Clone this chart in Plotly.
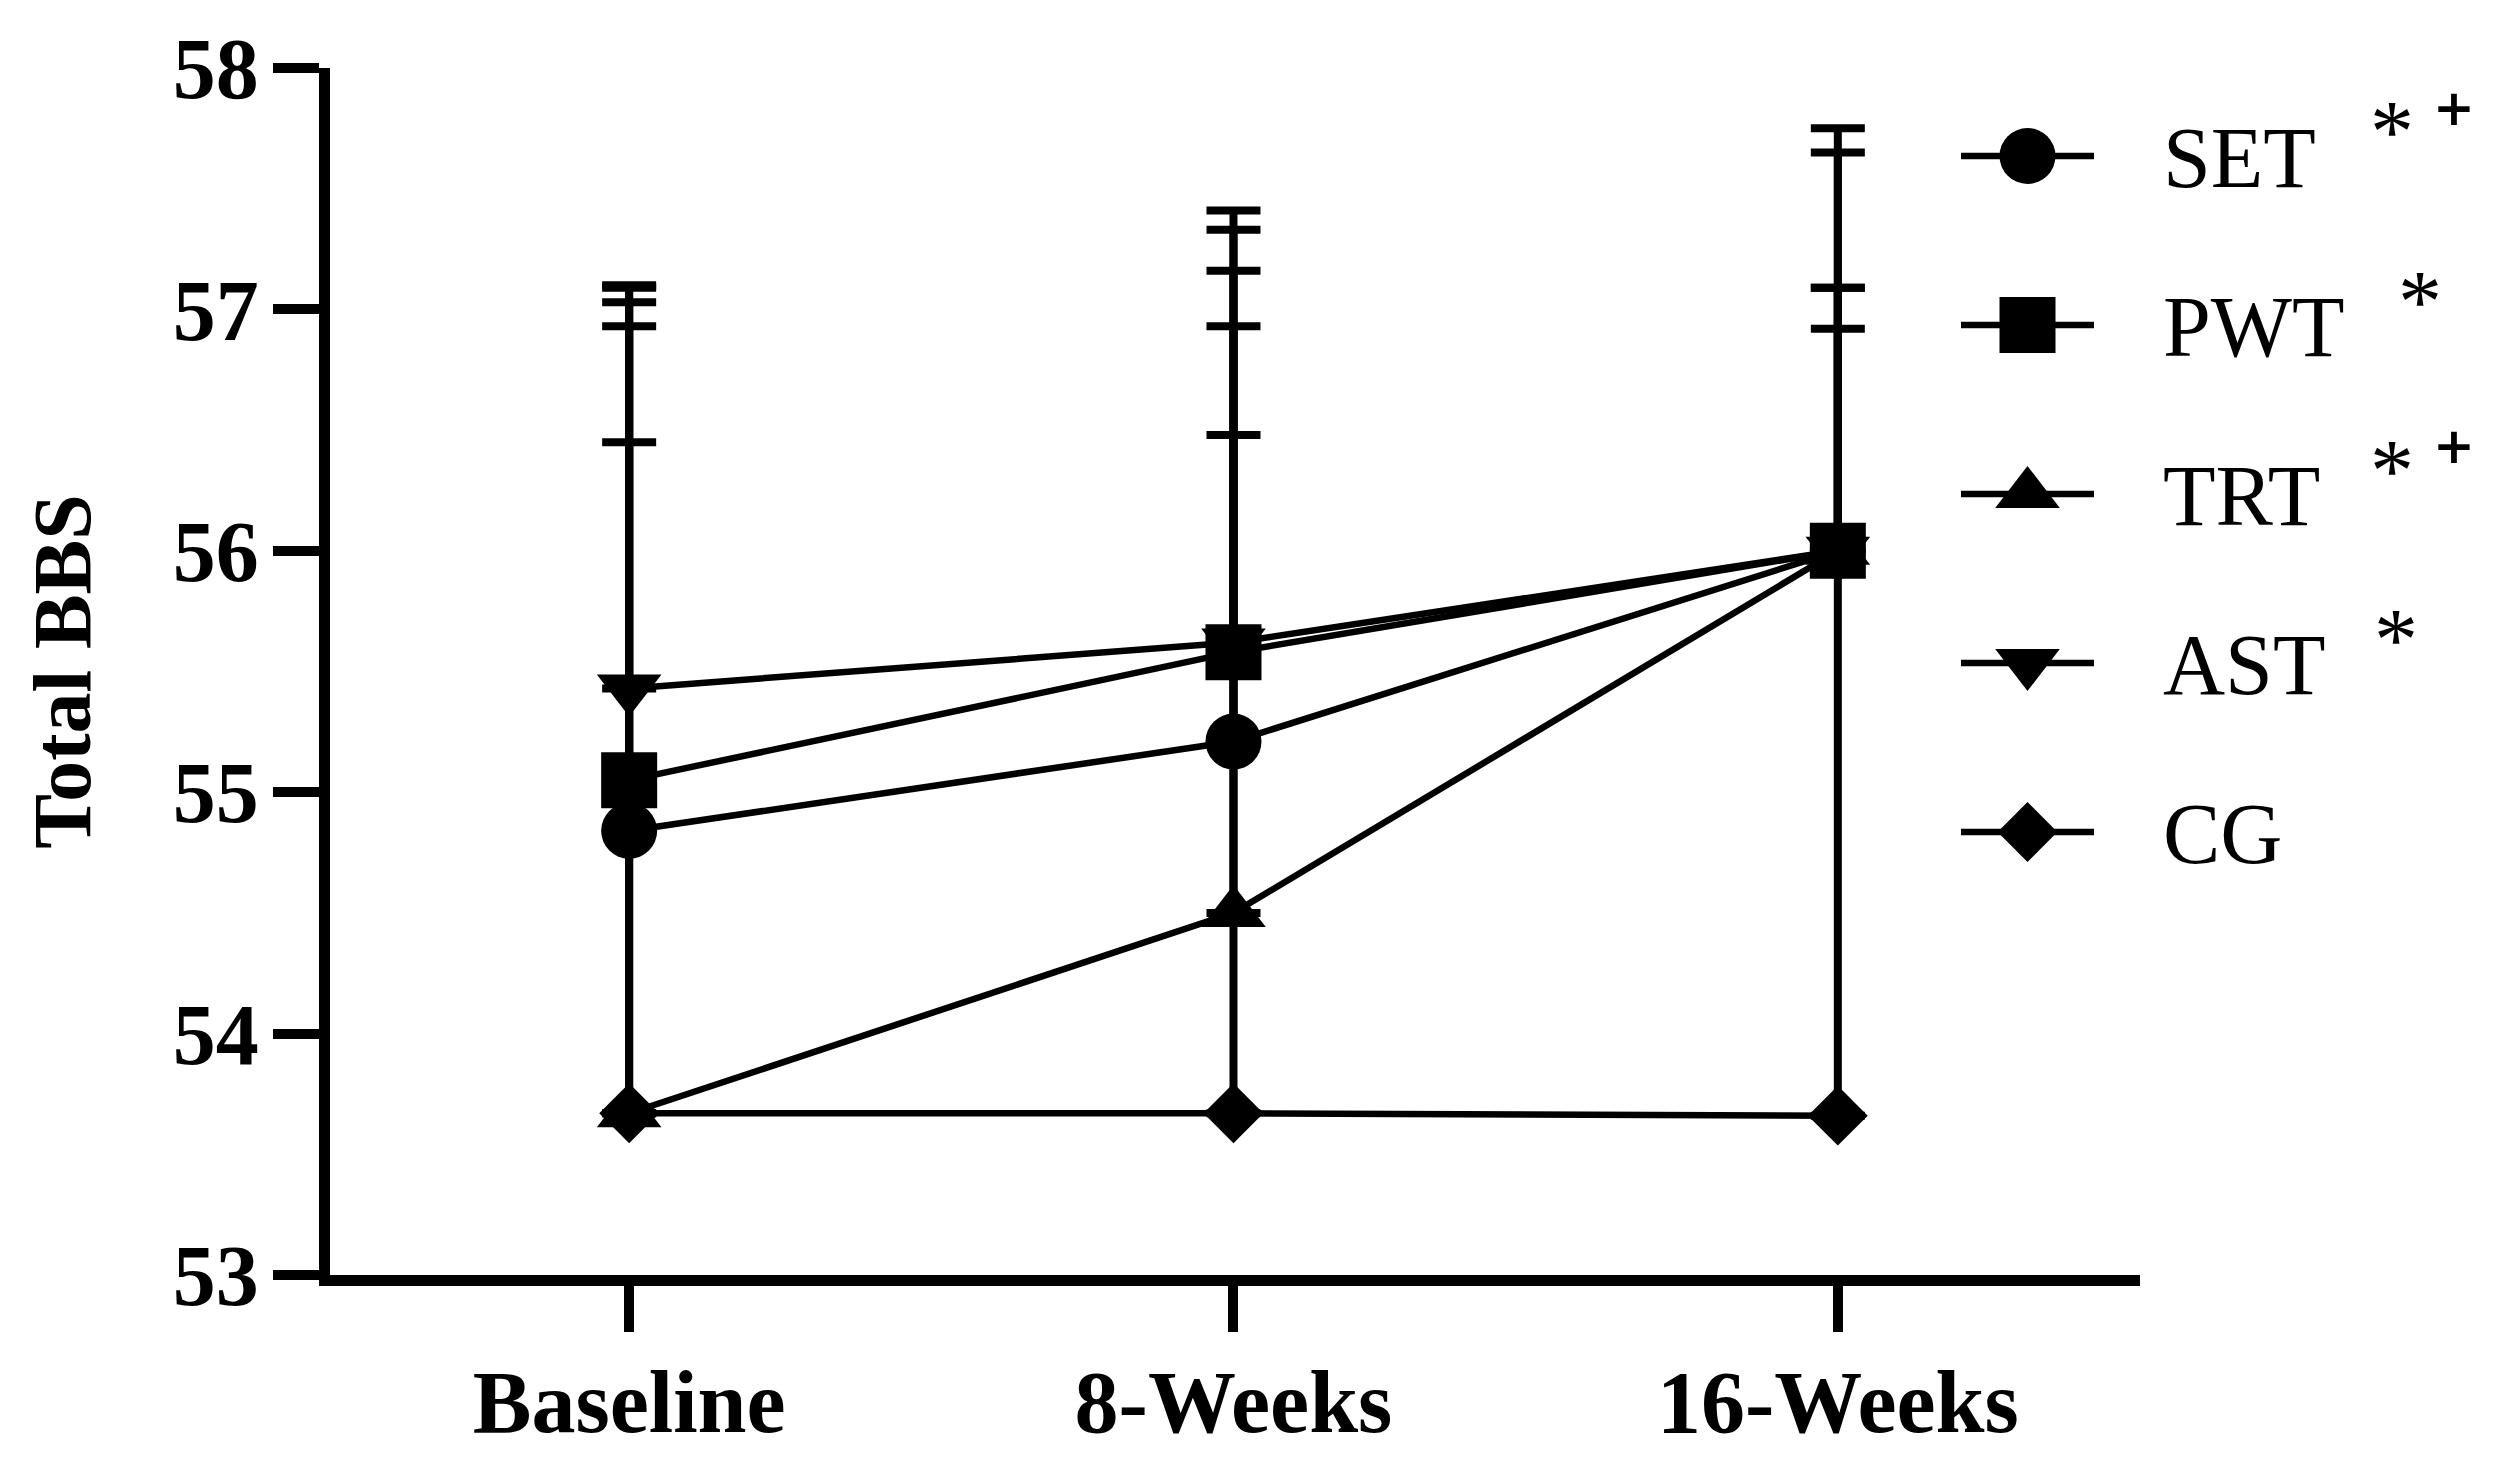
import plotly.graph_objects as go

# ---------------- data ----------------
timepoints = ["Baseline", "8-Weeks", "16-Weeks"]
x_pos = [0, 1, 2]

groups = ["SET", "PWT", "TRT", "AST", "CG"]
set_mean = [54.84, 55.21, 56.00]
pwt_mean = [55.05, 55.58, 56.00]
trt_mean = [53.67, 54.50, 56.00]
ast_mean = [55.43, 55.62, 56.00]
cg_mean = [53.67, 53.67, 53.66]

set_sd = [2.26, 1.95, 1.09]
pwt_sd = [1.98, 1.83, 0.92]
trt_sd = [3.42, 2.43, 1.75]
ast_sd = [1.50, 1.71, 1.65]
cg_sd = [2.78, 2.81, 3.43]

symbols = ["circle", "square", "triangle-up", "triangle-down", "diamond"]
marker_sizes = [56, 56, 56, 56, 46]
significance = [["*", "+"], ["*"], ["*", "+"], ["*"], []]

y_ticks = [53, 54, 55, 56, 57, 58]

means = [set_mean, pwt_mean, trt_mean, ast_mean, cg_mean]
sds = [set_sd, pwt_sd, trt_sd, ast_sd, cg_sd]

# ---------------- geometry (screen pixels) ----------------
W, H = 2514, 1457
BODY = 8                      # default page body margin
PX0, PX1 = 330, 2140          # plot area left / right on screen
PY0, PY1 = 68, 1275           # plot area top / bottom on screen
L = PX0 - BODY
T = PY0 - BODY
R = W - L - (PX1 - PX0)
B = H - T - (PY1 - PY0)


def paper_x(sx):
    return (sx - PX0) / (PX1 - PX0)


def paper_y(sy):
    return (PY1 - sy) / (PY1 - PY0)


fig = go.Figure()

for name, m, sd, sym, ms in zip(groups, means, sds, symbols, marker_sizes):
    fig.add_trace(go.Scatter(
        x=x_pos, y=m, name=name, mode="lines+markers",
        line=dict(color="black", width=6.5),
        marker=dict(symbol=sym, size=ms, color="black", line=dict(width=0)),
        error_y=dict(type="data", symmetric=False, array=sd,
                     arrayminus=[0] * len(sd), color="black",
                     thickness=8, width=27),
        showlegend=False, cliponaxis=False,
    ))

# ---- custom legend (pixel-based overlay axis) ----
leg_y0, leg_dy = 156, 169
leg_x0, leg_x1 = 1961, 2094
leg_xm = (leg_x0 + leg_x1) / 2
for i, (name, sym, ms) in enumerate(zip(groups, symbols, marker_sizes)):
    yy = leg_y0 + i * leg_dy
    fig.add_trace(go.Scatter(
        x=[leg_x0, leg_xm, leg_x1], y=[yy, yy, yy],
        mode="lines", line=dict(color="black", width=6.5),
        xaxis="x2", yaxis="y2", showlegend=False, hoverinfo="skip",
        cliponaxis=False,
    ))
    fig.add_trace(go.Scatter(
        x=[leg_xm], y=[yy], mode="markers",
        marker=dict(symbol=sym, size=ms, color="black", line=dict(width=0)),
        xaxis="x2", yaxis="y2", showlegend=False, hoverinfo="skip",
        cliponaxis=False,
    ))
    fig.add_annotation(
        x=paper_x(2161), y=paper_y(yy + 2), xref="paper", yref="paper",
        text=name, showarrow=False, xanchor="left", yanchor="middle",
        font=dict(family="Liberation Serif", size=86, color="black"),
    )
    sig = significance[i]
    if sig:
        ast_x = {"SET": 2392, "PWT": 2420, "TRT": 2392, "AST": 2396}[name]
        fig.add_annotation(
            x=paper_x(ast_x), y=paper_y(yy - 46 + 22), xref="paper",
            yref="paper", text="*", showarrow=False,
            xanchor="center", yanchor="middle",
            font=dict(family="Liberation Serif", size=88, color="black"),
        )
        if len(sig) > 1:
            fig.add_annotation(
                x=paper_x(2454), y=paper_y(yy - 48), xref="paper",
                yref="paper", text="+", showarrow=False,
                xanchor="center", yanchor="middle",
                font=dict(family="DejaVu Sans", size=50, color="black",
                          weight="bold"),
            )

fig.update_layout(
    width=W, height=H,
    margin=dict(l=L, r=R, t=T, b=B, pad=0, autoexpand=False),
    paper_bgcolor="white", plot_bgcolor="white",
    showlegend=False,
    xaxis=dict(
        range=[-0.495, 2.5], tickvals=x_pos, ticktext=timepoints,
        showline=True, linecolor="black", linewidth=11,
        ticks="outside", ticklen=46, tickwidth=10, tickcolor="black",
        showgrid=False, zeroline=False, ticklabelstandoff=-6,
        automargin=False,
        tickfont=dict(family="Liberation Serif", size=88, color="black",
                      weight="bold"),
    ),
    yaxis=dict(
        range=[53, 58], tickvals=y_ticks,
        showline=True, linecolor="black", linewidth=11,
        ticks="outside", ticklen=46, tickwidth=10, tickcolor="black",
        showgrid=False, zeroline=False, ticklabelstandoff=-3,
        automargin=False,
        tickfont=dict(family="Liberation Serif", size=86, color="black",
                      weight="bold"),
        title=dict(text="Total BBS", standoff=60,
                   font=dict(family="Liberation Serif", size=82,
                             color="black", weight="bold")),
    ),
    xaxis2=dict(range=[PX0, PX1], domain=[0, 1], visible=False,
                anchor="y2", overlaying="x", automargin=False),
    yaxis2=dict(range=[PY1, PY0], domain=[0, 1], visible=False,
                anchor="x2", overlaying="y", automargin=False),
)

fig.write_html("out.html")
